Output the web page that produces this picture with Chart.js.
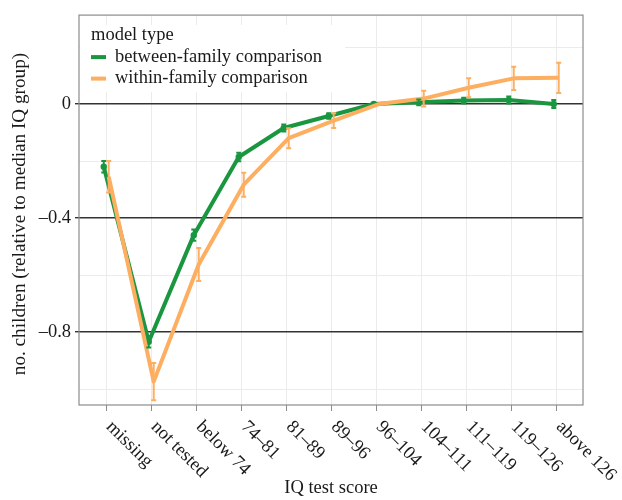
<!DOCTYPE html>
<html>
<head>
<meta charset="utf-8">
<script src="https://cdn.jsdelivr.net/npm/chart.js@4"></script>
<style>
  body { margin: 0; background: #fff; }
  #wrap { width: 622px; height: 500px; }
</style>
</head>
<body>
<div id="wrap"><canvas id="iqChart" width="622" height="500"></canvas></div>
<script>
// categories of IQ score
const categories = ['missing', 'not tested', 'below 74', '74–81', '81–89', '89–96',
  '96–104', '104–111', '111–119', '119–126', 'above 126'];

// between-family comparison (estimate and error half-width)
const betweenValues = [-0.22, -0.834, -0.46, -0.186, -0.084, -0.042, 0, 0.006, 0.012, 0.014, 0.0];
const betweenErr = [0.02, 0.02, 0.02, 0.015, 0.012, 0.01, 0, 0.01, 0.01, 0.012, 0.014];

// within-family comparison
const withinValues = [-0.255, -0.974, -0.563, -0.283, -0.12, -0.058, 0, 0.019, 0.057, 0.09, 0.092];
const withinErr = [0.055, 0.065, 0.058, 0.042, 0.035, 0.026, 0, 0.028, 0.033, 0.041, 0.053];

// y axis ticks
const yTickLabels = [0, -0.4, -0.8];
const yMinorTicks = [0.2, -0.2, -0.6, -1.0];

const seriesNames = ['between-family comparison', 'within-family comparison'];
const legendTitle = 'model type';
const xTitle = 'IQ test score';
const yTitle = 'no. children (relative to median IQ group)';

const green = '#1a9641';
const orange = '#fdae61';
const font = "'Liberation Serif', 'DejaVu Serif', serif";

function toPoints(vals, shift) {
  return vals.map((v, i) => ({ x: i + shift, y: v }));
}

function fmt(v) {
  if (v === 0) return '0';
  return (v < 0 ? '–' : '') + Math.abs(v).toFixed(1);
}

// error bars, x labels, legend, border
const extras = {
  id: 'extras',
  afterDatasetsDraw(chart) {
    const ctx = chart.ctx;
    const xs = chart.scales.x, ys = chart.scales.y;
    ctx.save();
    chart.data.datasets.forEach((ds, di) => {
      const errs = di === 0 ? betweenErr : withinErr;
      ctx.strokeStyle = ds.borderColor;
      ctx.lineWidth = 2;
      ds.data.forEach((p, i) => {
        if (!errs[i]) return;
        const x = xs.getPixelForValue(p.x);
        const y1 = ys.getPixelForValue(p.y + errs[i]);
        const y2 = ys.getPixelForValue(p.y - errs[i]);
        ctx.beginPath();
        ctx.moveTo(x, y1); ctx.lineTo(x, y2);
        ctx.moveTo(x - 2.5, y1); ctx.lineTo(x + 2.5, y1);
        ctx.moveTo(x - 2.5, y2); ctx.lineTo(x + 2.5, y2);
        ctx.stroke();
      });
    });
    ctx.restore();
  },
  afterDraw(chart) {
    const ctx = chart.ctx;
    const a = chart.chartArea;
    const xs = chart.scales.x;
    ctx.save();
    // panel border
    ctx.strokeStyle = '#8c8c8c';
    ctx.lineWidth = 1.2;
    ctx.strokeRect(a.left, a.top, a.right - a.left, a.bottom - a.top);

    // legend
    ctx.fillStyle = '#fff';
    ctx.fillRect(a.left + 1, a.top + 10, 265, 67);
    ctx.fillStyle = '#1a1a1a';
    ctx.font = '18.5px ' + font;
    ctx.textBaseline = 'middle';
    ctx.textAlign = 'left';
    ctx.fillText(legendTitle, a.left + 12, a.top + 20);
    [green, orange].forEach((c, i) => {
      const y = a.top + 42 + i * 21.5;
      ctx.strokeStyle = c;
      ctx.lineWidth = 4;
      ctx.beginPath();
      ctx.moveTo(a.left + 12, y); ctx.lineTo(a.left + 27, y);
      ctx.stroke();
      ctx.fillText(seriesNames[i], a.left + 36, y);
    });

    // rotated category labels
    ctx.font = '18.5px ' + font;
    ctx.textBaseline = 'middle';
    categories.forEach((c, i) => {
      const x = xs.getPixelForValue(i);
      ctx.save();
      ctx.translate(x + 3, a.bottom + 19);
      ctx.rotate(Math.PI / 4);
      ctx.fillText(c, 0, 0);
      ctx.restore();
    });

    // axis titles
    ctx.textAlign = 'center';
    ctx.fillText(xTitle, (a.left + a.right) / 2, 488);
    ctx.save();
    ctx.font = '19.2px ' + font;
    ctx.translate(20, 214);
    ctx.rotate(-Math.PI / 2);
    ctx.fillText(yTitle, 0, 0);
    ctx.restore();
    ctx.restore();
  }
};

new Chart(document.getElementById('iqChart'), {
  type: 'line',
  data: {
    datasets: [
      {
        label: seriesNames[0],
        data: toPoints(betweenValues, -0.05),
        borderColor: green,
        backgroundColor: green,
        borderWidth: 4,
        pointRadius: 1.2,
        borderJoinStyle: 'round',
        order: 1
      },
      {
        label: seriesNames[1],
        data: toPoints(withinValues, 0.06),
        borderColor: orange,
        backgroundColor: orange,
        borderWidth: 4,
        pointRadius: 0,
        borderJoinStyle: 'round',
        order: 0
      }
    ]
  },
  options: {
    responsive: false,
    animation: false,
    layout: { padding: { top: 15, right: 39, left: 0, bottom: 0 } },
    plugins: { legend: { display: false }, tooltip: { enabled: false } },
    scales: {
      x: {
        type: 'linear',
        min: -0.6,
        max: 10.6,
        afterBuildTicks(scale) {
          scale.ticks = categories.map((c, i) => ({ value: i }));
        },
        afterFit(scale) { scale.height = 95; },
        ticks: { display: false },
        border: { display: false },
        grid: { color: '#ebebeb', lineWidth: 1, drawTicks: true, tickLength: 6, tickColor: '#8c8c8c' }
      },
      y: {
        min: -1.056,
        max: 0.312,
        afterBuildTicks(scale) {
          scale.ticks = yTickLabels.concat(yMinorTicks).sort((p, q) => p - q).map(v => ({ value: v }));
        },
        afterFit(scale) { scale.width = 79; },
        border: { display: false },
        ticks: {
          color: '#1a1a1a',
          font: { family: font, size: 18.5 },
          padding: 4,
          callback: v => yTickLabels.some(t => Math.abs(t - v) < 1e-9) ? fmt(v) : ''
        },
        grid: {
          drawTicks: true,
          tickLength: 4,
          color: c => yTickLabels.some(t => Math.abs(t - c.tick.value) < 1e-9) ? '#333' : '#ebebeb',
          lineWidth: c => yTickLabels.some(t => Math.abs(t - c.tick.value) < 1e-9) ? 1.4 : 1,
          tickColor: c => yTickLabels.some(t => Math.abs(t - c.tick.value) < 1e-9) ? '#333' : 'rgba(0,0,0,0)'
        }
      }
    }
  },
  plugins: [extras]
});
</script>
</body>
</html>
